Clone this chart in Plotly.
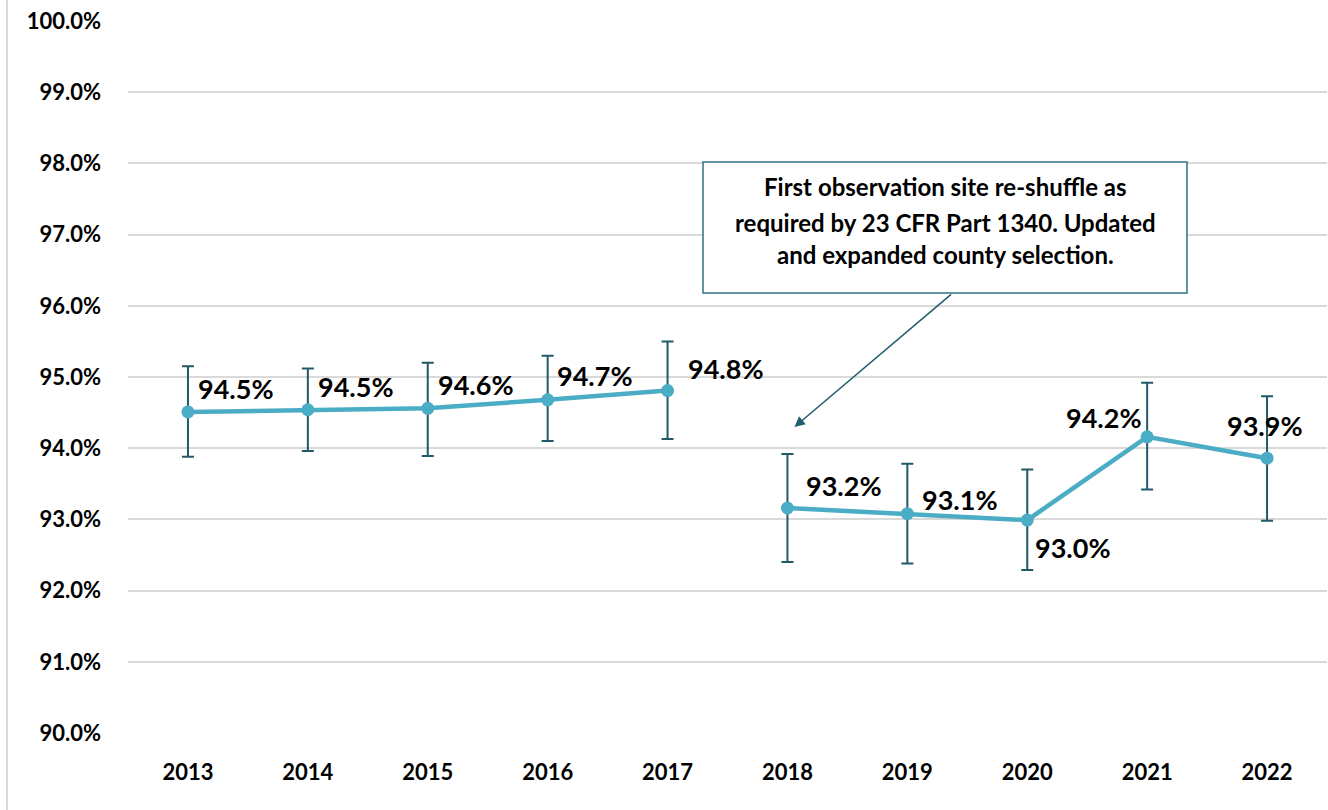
import plotly.graph_objects as go

PCT = chr(37)

years = ["2013", "2014", "2015", "2016", "2017", "2018", "2019", "2020", "2021", "2022"]
rate = [94.51, 94.54, 94.56, 94.68, 94.81, 93.16, 93.08, 92.99, 94.16, 93.86]
upper = [95.15, 95.12, 95.20, 95.30, 95.50, 93.92, 93.78, 93.70, 94.92, 94.73]
lower = [93.88, 93.96, 93.89, 94.10, 94.13, 92.40, 92.38, 92.29, 93.42, 92.98]
y_ticks = [90, 91, 92, 93, 94, 95, 96, 97, 98, 99, 100]
note_lines = ["First observation site re-shuffle as",
              "required by 23 CFR Part 1340. Updated",
              "and expanded county selection."]

LINE = "#4BACC6"
DARK = "#215968"
FONT = "Lato"

fig = go.Figure()
idx = list(range(len(years)))
for seg in (slice(0, 5), slice(5, 10)):
    ys = rate[seg]
    fig.add_trace(go.Scatter(
        x=idx[seg], y=ys, mode="lines+markers",
        line=dict(color=LINE, width=4.5),
        marker=dict(color=LINE, size=13),
        error_y=dict(type="data", symmetric=False,
                     array=[u - v for u, v in zip(upper[seg], ys)],
                     arrayminus=[v - l for v, l in zip(ys, lower[seg])],
                     color=DARK, thickness=2, width=6),
        showlegend=False, hoverinfo="skip"))

# label placement offsets (px) per point: xanchor, xshift, yshift
place = [("left", 8, 23), ("left", 8, 23), ("left", 8, 24), ("left", 7, 24), ("left", 18, 22),
         ("left", 17, 23), ("left", 13, 14), ("left", 6, -27), ("right", -3, 19), ("center", -2, 33)]
for i, v, (xa, xs, ys) in zip(idx, rate, place):
    fig.add_annotation(x=i, y=v, xref="x", yref="y", text=f"{v:.1f}" + PCT, showarrow=False,
                       xanchor=xa, yanchor="middle", xshift=xs, yshift=ys,
                       font=dict(family=FONT, size=27, color="black", weight="bold"))

# callout box
fig.add_shape(type="rect", xref="paper", yref="paper",
              x0=(703 - 128) / 1199, x1=(1187 - 128) / 1199,
              y0=(733 - 293) / 712, y1=(733 - 162) / 712,
              line=dict(color="#31707F", width=1.5), fillcolor="white", layer="above")
for txt, py in zip(note_lines, [187, 222, 255]):
    fig.add_annotation(xref="paper", yref="paper", x=(945 - 128) / 1199, y=(733 - py) / 712,
                       text=txt, showarrow=False, xanchor="center", yanchor="middle",
                       font=dict(family=FONT, size=24, color="black", weight="bold"))
# arrow from box to 2018
fig.add_annotation(x=(795 - 189) / 119.8, y=90 + (733 - 427) / 71.2, xref="x", yref="y",
                   ax=(953 - 189) / 119.8, ay=90 + (733 - 293) / 71.2, axref="x", ayref="y",
                   text="", showarrow=True, arrowhead=2, arrowsize=1.3, arrowwidth=1.6,
                   arrowcolor="#23606E")

# chart-area left border
fig.add_shape(type="line", xref="paper", yref="paper",
              x0=(7 - 128) / 1199, x1=(7 - 128) / 1199, y0=-0.2, y1=1.1,
              line=dict(color="#D9D9D9", width=2))

fig.update_layout(
    width=1328, height=810, autosize=False,
    margin=dict(l=128, r=1, t=21, b=77),
    paper_bgcolor="white", plot_bgcolor="white",
    font=dict(family=FONT, color="black"),
    xaxis=dict(range=[-0.5, 9.5], tickvals=idx, ticktext=years, showgrid=False, showline=False,
               zeroline=False, ticks="", ticklabelstandoff=24,
               tickfont=dict(family=FONT, size=22, color="black", weight="bold")),
    yaxis=dict(range=[90, 100], tickvals=y_ticks, ticktext=[f"{t:.1f}" + PCT for t in y_ticks],
               showgrid=True, gridcolor="#D9D9D9", gridwidth=1.5, showline=False,
               zeroline=False, ticks="", ticklabelstandoff=26,
               tickfont=dict(family=FONT, size=22, color="black", weight="bold")),
)

fig.write_html("out.html", config={"displayModeBar": False},
               post_script="document.body.style.margin='0px';")
